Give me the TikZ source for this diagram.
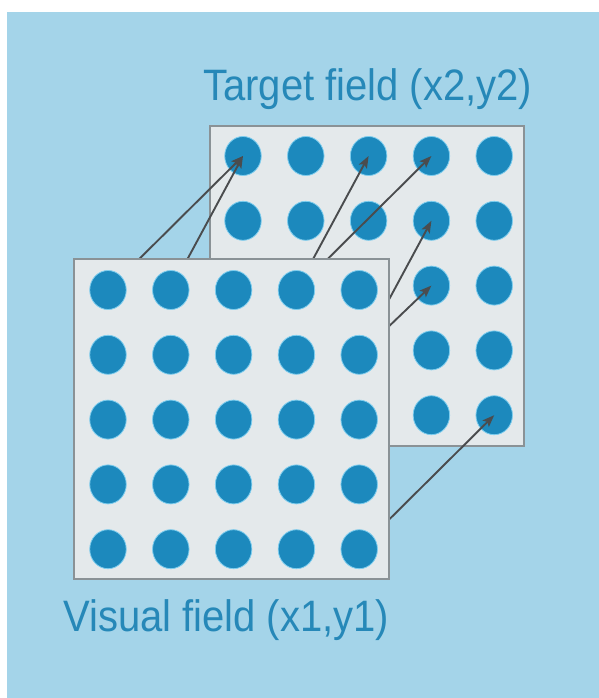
\documentclass[tikz,border=0pt]{standalone}
\usepackage{fontspec}
\setmainfont{Liberation Sans}
\usepackage{xcolor}
\definecolor{cSky}{RGB}{164,212,233}
\definecolor{cPanel}{RGB}{228,233,235}
\definecolor{cFrame}{RGB}{138,146,150}
\definecolor{cDot}{RGB}{28,137,189}
\definecolor{cHalo}{RGB}{125,205,238}
\definecolor{cLabel}{RGB}{38,136,184}
\definecolor{cArrow}{RGB}{74,76,78}
\usepackage{tikz}
\pgfdeclarelayer{background}
\pgfsetlayers{background, main}
\usetikzlibrary{arrows.meta, shapes.geometric, positioning}
\newcommand{\tall}[1]{\scalebox{1}[1.1]{#1}}

\begin{document}
\begin{tikzpicture}[x=1pt, y=-1pt,
    panel/.style={draw=cFrame, fill=cPanel, line width=2pt, inner sep=0pt,
      minimum width=314.6pt, minimum height=320.4pt, anchor=north west},
    dot/.style={ellipse, fill=cDot, draw=cHalo, line width=0.8pt, inner sep=0pt,
      minimum width=36.5pt, minimum height=39pt},
    ar/.style={cArrow, line width=1.9pt, -{Stealth[length=12pt, width=9pt, inset=2.5pt]}},
    lbl/.style={cLabel, font=\fontsize{40}{46}\selectfont, inner sep=0pt, anchor=base west}]
    \def\dx{62.8}  % column step
    \def\dy{64.8}  % row step

    % ---------- visual field (front) ----------
    \node[panel] (front) at (73.4,257.6) {};
    \foreach \r in {0,...,4} {
      \foreach \c in {0,...,4} {
        \node[dot] (f\r\c) at (108+\c*\dx, 290+\r*\dy) {};
      }
    }

    \begin{pgfonlayer}{background}
      % ---------- canvas ----------
      \fill[white] (0,0) rectangle (599,698);
      \fill[cSky] (7,12.5) rectangle (599,698);

      % ---------- target field (back) ----------
      \node[panel] (back) at (208.6,125) {};
      \foreach \r in {0,...,4} {
        \foreach \c in {0,...,4} {
          \node[dot] (b\r\c) at (243+\c*\dx, 156+\r*\dy) {};
        }
      }

      % ---------- mapping ----------
      \foreach \s/\t in {f00/b00, f01/b00, f03/b02, f03/b03, f14/b13, f14/b23, f44/b44}
        \draw[ar] (\s.center) -- (\t.center);
    \end{pgfonlayer}

    % ---------- labels ----------
    \node[lbl] (tlabel) at (203,100.5) {\tall{Target field (x2,y2)}};
    \node[lbl] (vlabel) at (63,631.5) {\tall{Visual field (x1,y1)}};

    \useasboundingbox (0,0) rectangle (599,698);
\end{tikzpicture}
\end{document}
